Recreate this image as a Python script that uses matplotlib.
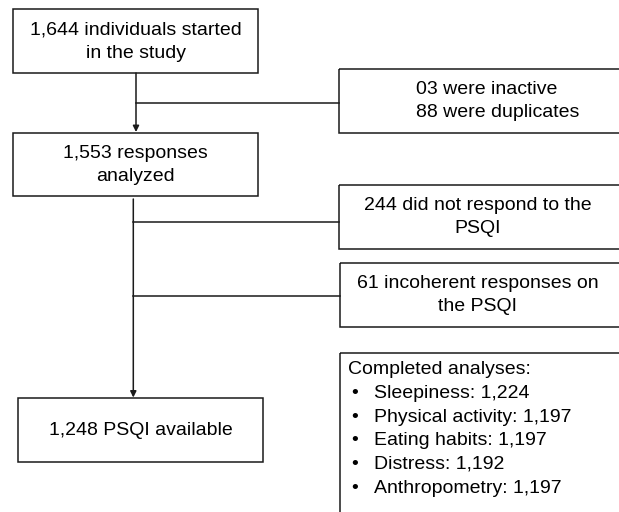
import matplotlib.pyplot as plt
from matplotlib.patches import Rectangle

# textos do fluxograma
main_steps = ["1,644 individuals started\nin the study",
              "1,553 responses\nanalyzed",
              "1,248 PSQI available"]
excluded = ["03 were inactive\n88 were duplicates",
            "244 did not respond to the\nPSQI",
            "61 incoherent responses on\nthe PSQI"]
summary_title = "Completed analyses:"
summary_items = ["Sleepiness: 1,224",
                 "Physical activity: 1,197",
                 "Eating habits: 1,197",
                 "Distress: 1,192",
                 "Anthropometry: 1,197"]

# caixas (x0, y0, x1, y1) em pixels, y para baixo
main_boxes = [(13, 9, 258, 73), (13, 133, 258, 196), (18, 398, 263, 462)]
side_boxes = [(339, 69, 630, 133), (339, 185, 630, 249), (340, 263, 630, 327)]
summary_box = (340, 353, 630, 530)

plt.rcParams['font.family'] = ['Liberation Sans', 'DejaVu Sans']
fs = 14
ls = 1.5
lc = '#1a1a1a'
lw = 1.1

fig = plt.figure(figsize=(6.19, 5.12), dpi=100)
ax = fig.add_axes([0, 0, 1, 1])
ax.set_xlim(0, 619)
ax.set_ylim(512, 0)
ax.axis('off')

def box(b):
    x0, y0, x1, y1 = b
    ax.add_patch(Rectangle((x0, y0), x1 - x0, y1 - y0, fill=False,
                           edgecolor=lc, linewidth=lw))

for b, t in zip(main_boxes, main_steps):
    box(b)
    ax.text((b[0] + b[2]) / 2, (b[1] + b[3]) / 2 + 0.5, t, ha='center', va='center',
            fontsize=fs, linespacing=ls)

for i, (b, t) in enumerate(zip(side_boxes, excluded)):
    box(b)
    if i == 0:
        # primeira caixa tem o texto quase alinhado à esquerda
        ax.text(416, (b[1] + b[3]) / 2, t, ha='left', va='center',
                fontsize=fs, linespacing=ls)
    else:
        ax.text(478, (b[1] + b[3]) / 2, t, ha='center', va='center',
                fontsize=fs, linespacing=ls)

box(summary_box)
ax.text(348, 369.5, summary_title, ha='left', va='center', fontsize=fs)
for k, item in enumerate(summary_items):
    y = 393.3 + k * 23.7
    ax.text(351, y, u"\u2022", ha='left', va='center', fontsize=fs)
    ax.text(374, y, item, ha='left', va='center', fontsize=fs)

arrow = dict(arrowstyle='-|>', color=lc, lw=lw, shrinkA=0, shrinkB=0,
             mutation_scale=9)

# primeira ligação
ax.annotate('', xy=(136, 132), xytext=(136, 73), arrowprops=arrow)
ax.plot([136, 339], [102.7, 102.7], color=lc, linewidth=lw)

# segunda ligação
ax.annotate('', xy=(133.3, 397.5), xytext=(133.3, 199), arrowprops=arrow)
ax.plot([133.3, 339], [221.7, 221.7], color=lc, linewidth=lw)
ax.plot([133.3, 340], [296, 296], color=lc, linewidth=lw)

plt.savefig('out.png', dpi=100)
